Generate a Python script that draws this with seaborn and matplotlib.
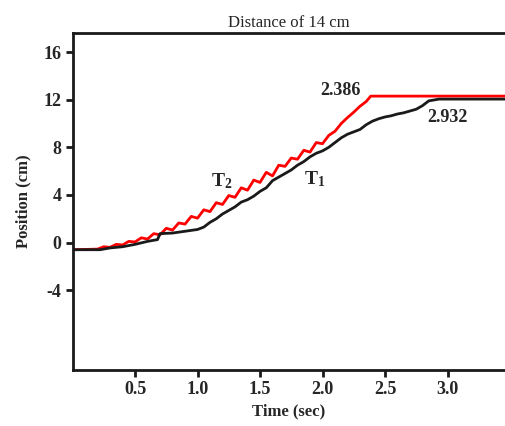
import pandas as pd
import matplotlib
matplotlib.use('Agg')
import matplotlib.pyplot as plt
import seaborn as sns

# T2 (red) trace
t_red = [0.00, 0.20, 0.25, 0.30, 0.35, 0.40, 0.45, 0.50, 0.55, 0.60, 0.65, 0.70,
         0.75, 0.80, 0.85, 0.90, 0.95, 1.00, 1.05, 1.10, 1.15, 1.20, 1.25, 1.30,
         1.35, 1.40, 1.45, 1.50, 1.55, 1.60, 1.65, 1.70, 1.75, 1.80, 1.85, 1.90,
         1.95, 2.00, 2.05, 2.10, 2.15, 2.20, 2.25, 2.30, 2.35, 2.386, 3.46]
y_red = [-0.60, -0.55, -0.35, -0.40, -0.15, -0.20, 0.10, 0.05, 0.40, 0.30, 0.75, 0.65,
         1.20, 1.05, 1.65, 1.55, 2.20, 2.05, 2.75, 2.60, 3.35, 3.20, 3.95, 3.80,
         4.60, 4.40, 5.25, 5.05, 5.90, 5.60, 6.50, 6.40, 7.10, 7.00, 7.75, 7.60,
         8.40, 8.30, 9.00, 9.35, 10.00, 10.50, 10.95, 11.45, 11.85, 12.30, 12.30]

# T1 (black) trace
t_blk = [0.00, 0.22, 0.30, 0.40, 0.50, 0.60, 0.68, 0.70, 0.80, 0.90, 1.00, 1.05,
         1.10, 1.15, 1.20, 1.25, 1.30, 1.35, 1.40, 1.45, 1.50, 1.55, 1.60, 1.65,
         1.70, 1.75, 1.80, 1.85, 1.90, 1.95, 2.00, 2.05, 2.10, 2.15, 2.20, 2.25,
         2.30, 2.35, 2.40, 2.45, 2.50, 2.55, 2.60, 2.65, 2.70, 2.75, 2.80, 2.85,
         2.932, 3.46]
y_blk = [-0.60, -0.60, -0.45, -0.35, -0.15, 0.10, 0.25, 0.75, 0.80, 0.95, 1.10, 1.30,
         1.70, 2.00, 2.40, 2.70, 3.00, 3.40, 3.60, 3.90, 4.30, 4.60, 5.20, 5.50,
         5.80, 6.10, 6.50, 6.80, 7.20, 7.50, 7.70, 8.00, 8.40, 8.80, 9.10, 9.30,
         9.50, 9.90, 10.20, 10.40, 10.55, 10.65, 10.80, 10.90, 11.05, 11.20, 11.50, 11.90,
         12.05, 12.05]

x_ticks = [0.5, 1.0, 1.5, 2.0, 2.5, 3.0]
y_ticks = [-4, 0, 4, 8, 12, 16]

sns.set_style("ticks")
plt.rcParams['font.family'] = ['Liberation Serif', 'DejaVu Serif']
plt.rcParams['mathtext.fontset'] = 'custom'
plt.rcParams['mathtext.rm'] = 'Liberation Serif:bold'
plt.rcParams['mathtext.bf'] = 'Liberation Serif:bold'

red = pd.DataFrame({'t': t_red, 'y': y_red})
blk = pd.DataFrame({'t': t_blk, 'y': y_blk})

fig = plt.figure(figsize=(5.05, 4.26), dpi=100)
ax = fig.add_axes([0.1436, 0.1315, 0.8564, 0.791])

sns.lineplot(data=red, x='t', y='y', color='#ff0000', lw=2, ax=ax, sort=False)
sns.lineplot(data=blk, x='t', y='y', color='#1a1a1a', lw=2, ax=ax, sort=False)

ax.set_xlim(0, 3.46)
ax.set_ylim(-10.7, 17.6)
ax.set_xticks(x_ticks)
ax.set_xticklabels([f"{v:.1f}" for v in x_ticks])
ax.set_yticks(y_ticks)
ax.set_yticklabels([str(v) for v in y_ticks])

for s in ['left', 'bottom', 'top']:
    ax.spines[s].set_linewidth(2)
    ax.spines[s].set_color('#1a1a1a')
ax.spines['right'].set_visible(False)
ax.tick_params(width=2, length=5, color='#1a1a1a', labelsize=13, pad=3)
for lab in ax.get_xticklabels() + ax.get_yticklabels():
    lab.set_fontweight('bold')

ax.set_title("Distance of 14 cm", fontsize=12, pad=4)
ax.set_xlabel("Time (sec)", fontsize=12, fontweight='bold', labelpad=4)
ax.set_ylabel("Position (cm)", fontsize=12, fontweight='bold', labelpad=9)

ax.text(2.14, 12.8, "2.386", fontsize=13, fontweight='bold', ha='center', va='center')
ax.text(3.0, 10.5, "2.932", fontsize=13, fontweight='bold', ha='center', va='center')
ax.text(1.19, 5.2, r"$\mathrm{T_2}$", fontsize=14, ha='center', va='center')
ax.text(1.94, 5.3, r"$\mathrm{T_1}$", fontsize=14, ha='center', va='center')

fig.savefig('out.png', dpi=100)
